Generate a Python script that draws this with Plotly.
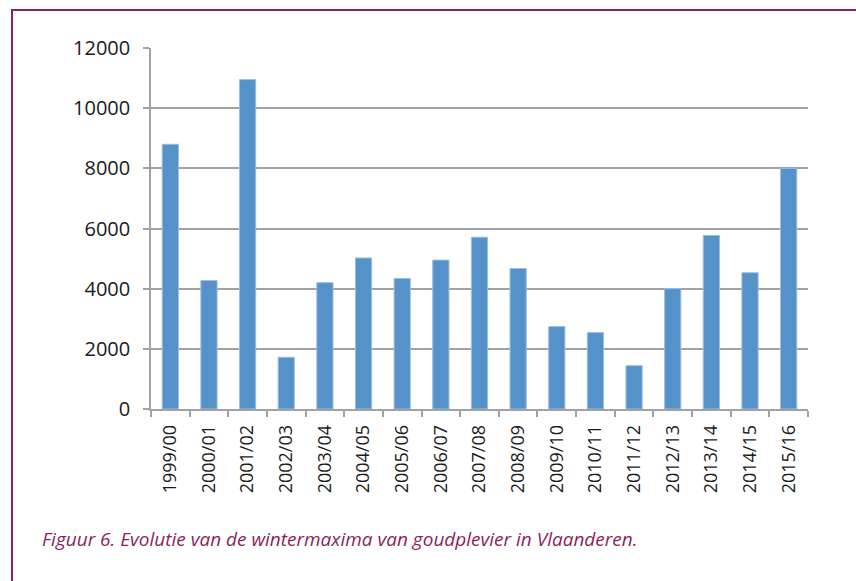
import plotly.graph_objects as go

seasons = ["1999/00", "2000/01", "2001/02", "2002/03", "2003/04", "2004/05",
           "2005/06", "2006/07", "2007/08", "2008/09", "2009/10", "2010/11",
           "2011/12", "2012/13", "2013/14", "2014/15", "2015/16"]
maxima = [8800, 4270, 10950, 1720, 4200, 5020, 4340, 4950, 5710, 4670,
          2740, 2540, 1440, 4000, 5770, 4530, 8000]
y_ticks = [0, 2000, 4000, 6000, 8000, 10000, 12000]
caption = "Figuur 6. Evolutie van de wintermaxima van goudplevier in Vlaanderen."

grid_col = "#A2A2A6"
purple = "#8C1F5E"

fig = go.Figure()
fig.add_trace(go.Bar(
    x=seasons, y=maxima,
    marker=dict(color="#5592C9", line=dict(color="#9DBDE2", width=1)),
    hoverinfo="x+y",
))

fig.update_layout(
    width=856, height=581,
    margin=dict(l=151, r=48, t=48, b=171.5, pad=0),
    paper_bgcolor="white", plot_bgcolor="white",
    bargap=0.58,
    showlegend=False,
    font=dict(family="Open Sans, Liberation Sans, sans-serif", color="#1a1a1a"),
    xaxis=dict(
        type="category",
        tickangle=-90,
        tickfont=dict(size=18, color="#1a1a1a"),
        showline=True, linecolor=grid_col, linewidth=1.5,
        ticks="outside", ticklen=6, tickcolor=grid_col, tickwidth=1.5,
        tickson="boundaries",
        showgrid=False,
        ticklabelstandoff=7,
    ),
    yaxis=dict(
        range=[0, 12000],
        tickvals=y_ticks,
        ticktext=[str(v) for v in y_ticks],
        tickfont=dict(size=20, color="#1a1a1a"),
        showline=True, linecolor=grid_col, linewidth=1.5,
        ticks="outside", ticklen=6, tickcolor=grid_col, tickwidth=1.5,
        showgrid=True, gridcolor=grid_col, gridwidth=1.5,
        zeroline=False,
        ticklabelstandoff=9,
    ),
    shapes=[dict(
        type="rect", xref="paper", yref="paper",
        x0=(12 - 151) / 657, x1=1.2, y0=-0.6, y1=(409.5 - 10) / 361.5,
        line=dict(color=purple, width=2), fillcolor="rgba(0,0,0,0)",
        layer="below",
    )],
    annotations=[dict(
        text=caption, xref="paper", yref="paper",
        x=(40 - 151) / 657, y=(409.5 - 540) / 361.5,
        xanchor="left", yanchor="middle", showarrow=False,
        font=dict(family="Open Sans, sans-serif", size=19, color=purple, style="italic"),
    )],
)

fig.write_html("out.html", config={"displayModeBar": False},
               post_script="document.body.style.margin='0';")
